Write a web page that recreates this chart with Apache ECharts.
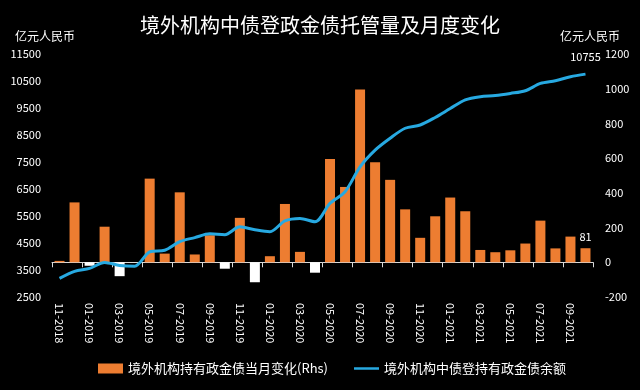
<!DOCTYPE html>
<html>
<head>
<meta charset="utf-8">
<script src="https://cdn.jsdelivr.net/npm/echarts@6/dist/echarts.min.js"></script>
<style>
html,body{margin:0;padding:0;background:#000;}
#chart{width:640px;height:390px;}
</style>
</head>
<body>
<div id="chart"></div>
<script>
const categories = ["11-2018","12-2018","01-2019","02-2019","03-2019","04-2019","05-2019","06-2019","07-2019","08-2019","09-2019","10-2019","11-2019","12-2019","01-2020","02-2020","03-2020","04-2020","05-2020","06-2020","07-2020","08-2020","09-2020","10-2020","11-2020","12-2020","01-2021","02-2021","03-2021","04-2021","05-2021","06-2021","07-2021","08-2021","09-2021","10-2021"];
const monthlyChange = [8,345,-20,205,-80,0,482,50,403,45,156,-37,256,-115,35,336,60,-60,595,434,995,576,475,305,141,265,373,294,71,58,69,108,240,80,148,81];
const holdings = [3190,3450,3560,3780,3670,3640,4170,4230,4550,4700,4840,4810,5100,4990,4920,5320,5410,5290,5970,6400,7320,7940,8380,8750,8870,9150,9480,9800,9920,9960,10040,10140,10410,10510,10660,10755];
const barName = "境外机构持有政金债当月变化(Rhs)";
const lineName = "境外机构中债登持有政金债余额";
const titleText = "境外机构中债登政金债托管量及月度变化";
const unitName = "亿元人民币";

const FONT = "'Noto Sans CJK SC', 'Noto Sans', sans-serif";
const ORANGE = '#ed7d31';
const BLUE = '#27a9e1';
const chart = echarts.init(document.getElementById('chart'));
const last = categories.length - 1;
chart.setOption({
  backgroundColor: '#000',
  textStyle: {fontFamily: FONT, color: '#fff'},
  title: {
    text: titleText, left: 'center', top: 10,
    textStyle: {color: '#fff', fontSize: 20, fontWeight: 'normal', fontFamily: FONT}
  },
  grid: {left: 52, right: 47, top: 54, bottom: 93},
  legend: {
    left: 93, top: 357, itemWidth: 25, itemHeight: 10, itemGap: 26,
    textStyle: {color: '#fff', fontSize: 13, fontFamily: FONT},
    data: [
      {name: barName, icon: 'rect', itemStyle: {color: ORANGE}},
      {name: lineName, icon: 'path://M0,0H30V3H0Z', itemStyle: {color: BLUE}}
    ]
  },
  xAxis: {
    type: 'category', data: categories, boundaryGap: true,
    axisLine: {show: true, lineStyle: {color: '#d9d9d9', width: 1}},
    axisTick: {show: true, interval: 1, length: 5, lineStyle: {color: '#d9d9d9'}},
    axisLabel: {interval: 1, rotate: -90, color: '#fff', fontSize: 11, margin: 6, fontFamily: FONT}
  },
  yAxis: [{
    type: 'value', min: 2500, max: 11500, interval: 1000, position: 'left',
    name: unitName, nameLocation: 'end', nameGap: 12,
    nameTextStyle: {color: '#fff', fontSize: 12, padding: [0, 14, 0, 0], fontFamily: FONT},
    axisLine: {show: false}, axisTick: {show: false}, splitLine: {show: false},
    axisLabel: {color: '#fff', fontSize: 11, margin: 11, fontFamily: FONT, formatter: v => String(v)}
  }, {
    type: 'value', min: -200, max: 1200, interval: 200, position: 'right',
    name: unitName, nameLocation: 'end', nameGap: 12,
    nameTextStyle: {color: '#fff', fontSize: 12, padding: [0, 6, 0, 0], fontFamily: FONT},
    axisLine: {show: false}, axisTick: {show: false}, splitLine: {show: false},
    axisLabel: {color: '#fff', fontSize: 11, margin: 12, fontFamily: FONT, formatter: v => String(v)}
  }],
  series: [{
    name: barName, type: 'bar', yAxisIndex: 1, data: monthlyChange, barWidth: 10,
    itemStyle: {color: p => p.value < 0 ? '#ffffff' : ORANGE},
    label: {
      show: true, position: 'top', distance: 6, color: '#fff', fontSize: 11,
      formatter: p => p.dataIndex === last ? String(p.value) : ''
    },
    z: 2
  }, {
    name: lineName, type: 'line', yAxisIndex: 0, data: holdings,
    smooth: 0.3, symbol: 'none', showSymbol: false,
    lineStyle: {color: BLUE, width: 3},
    itemStyle: {color: BLUE},
    label: {show: false},
    markPoint: {
      symbol: 'circle', symbolSize: 0,
      label: {show: true, position: 'top', distance: 12, color: '#fff', fontSize: 11, formatter: p => String(p.value)},
      data: [{coord: [last, holdings[last]], value: holdings[last]}]
    },
    z: 3
  }]
});
</script>
</body>
</html>
